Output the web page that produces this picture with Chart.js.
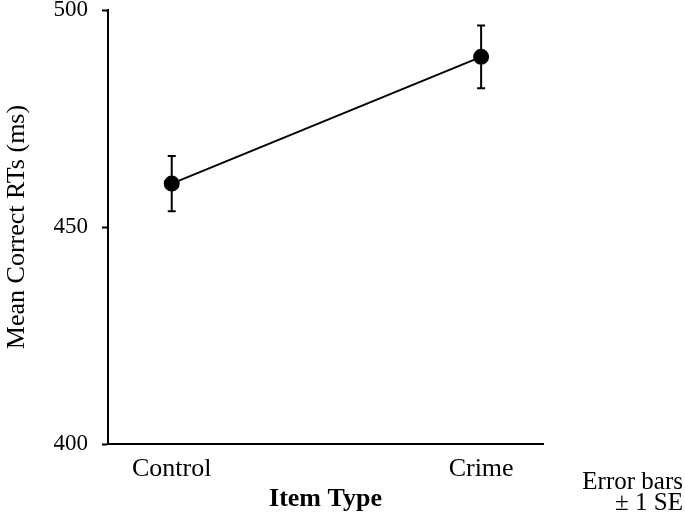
<!DOCTYPE html>
<html>
<head>
<meta charset="utf-8">
<script src="https://cdn.jsdelivr.net/npm/chart.js@4/dist/chart.umd.min.js"></script>
<style>
    html, body { margin: 0; padding: 0; background: #fff; }
    #wrap { width: 685px; height: 515px; position: relative; }
</style>
</head>
<body>
<div id="wrap"><canvas id="chart"></canvas></div>
<script>
// Dữ liệu
const categories = ['Control', 'Crime'];
const meanRT = [460, 489.2];
const seRT = [6.35, 7.25];
const yTicks = [400, 450, 500];
const noteLines = ['Error bars', '\u00B1 1 SE'];

const serif = '"Liberation Serif", "Times New Roman", serif';

// Vẽ error bars bằng scale của chart
const errorBarPlugin = {
    id: 'errorBars',
    afterDatasetsDraw(chart) {
        const ctx = chart.ctx;
        const xs = chart.scales.x, ys = chart.scales.y;
        ctx.save();
        ctx.strokeStyle = '#000';
        ctx.lineWidth = 2;
        meanRT.forEach((m, i) => {
            const x = xs.getPixelForValue(i);
            const top = ys.getPixelForValue(m + seRT[i]);
            const bot = ys.getPixelForValue(m - seRT[i]);
            ctx.beginPath();
            ctx.moveTo(x, top); ctx.lineTo(x, bot);
            ctx.moveTo(x - 4, top); ctx.lineTo(x + 4, top);
            ctx.moveTo(x - 4, bot); ctx.lineTo(x + 4, bot);
            ctx.stroke();
        });
        ctx.restore();
    }
};

// Ghi chú góc dưới phải
const notePlugin = {
    id: 'note',
    afterDraw(chart) {
        const ctx = chart.ctx;
        ctx.save();
        ctx.fillStyle = '#000';
        ctx.font = '25px ' + serif;
        ctx.textAlign = 'right';
        ctx.textBaseline = 'alphabetic';
        ctx.fillText(noteLines[0], 683, 489);
        ctx.fillText(noteLines[1], 683, 510);
        ctx.restore();
    }
};

new Chart(document.getElementById('chart'), {
    type: 'line',
    data: {
        datasets: [{
            data: meanRT.map((v, i) => ({ x: i, y: v })),
            borderColor: '#000',
            backgroundColor: '#000',
            borderWidth: 2,
            pointRadius: 7,
            pointHoverRadius: 7,
            tension: 0,
            fill: false
        }]
    },
    options: {
        responsive: true,
        maintainAspectRatio: false,
        animation: false,
        layout: { padding: { top: 10, right: 142, left: 0, bottom: 0 } },
        plugins: { legend: { display: false }, tooltip: { enabled: false } },
        scales: {
            x: {
                type: 'linear',
                min: -0.206,
                max: 1.2,
                afterBuildTicks: s => { s.ticks = categories.map((c, i) => ({ value: i })); },
                afterFit: s => { s.height = 71; s.paddingLeft = 0; s.paddingRight = 0; },
                grid: { display: false, drawTicks: false },
                border: { display: true, color: '#000', width: 2 },
                ticks: {
                    color: '#000',
                    font: { family: serif, size: 26 },
                    padding: 10,
                    maxRotation: 0,
                    callback: v => categories[v]
                },
                title: {
                    display: true,
                    text: 'Item Type',
                    color: '#000',
                    font: { family: serif, size: 26, weight: 'bold' },
                    padding: { top: 3, bottom: 0 }
                }
            },
            y: {
                min: 400,
                max: 500,
                afterBuildTicks: s => { s.ticks = yTicks.map(v => ({ value: v })); },
                afterFit: s => { s.width = 108; s.paddingTop = 0; s.paddingBottom = 0; },
                grid: {
                    drawOnChartArea: false,
                    drawTicks: true,
                    tickLength: 6,
                    tickWidth: 2,
                    tickColor: '#000'
                },
                border: { display: true, color: '#000', width: 2 },
                ticks: {
                    color: '#000',
                    font: { family: serif, size: 23 },
                    padding: 14
                },
                title: {
                    display: true,
                    text: 'Mean Correct RTs (ms)',
                    color: '#000',
                    font: { family: serif, size: 26 },
                    padding: { top: 2, bottom: 0 }
                }
            }
        }
    },
    plugins: [errorBarPlugin, notePlugin]
});
</script>
</body>
</html>
